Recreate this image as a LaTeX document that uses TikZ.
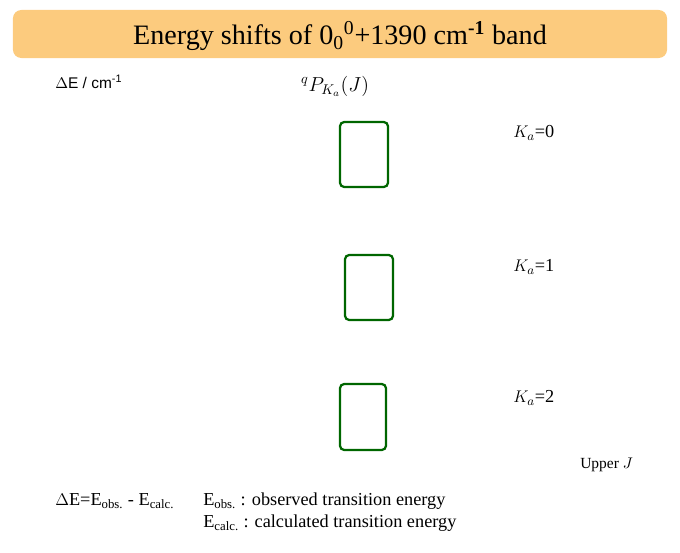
\documentclass[tikz,border=0pt]{standalone}
\usepackage{fontspec}
\setmainfont{Liberation Serif}
\setsansfont{Liberation Sans}
\definecolor{titlebar}{RGB}{252,203,126}
\begin{document}
\begin{tikzpicture}[x=0.025cm,y=-0.025cm]
        \tikzstyle{panel} = [draw=green!40!black, line width=1.6pt, rounded corners=3pt]
        \tikzstyle{lbl} = [anchor=west, inner sep=0pt, font=\fontsize{13}{15}\selectfont]
        \useasboundingbox (0,0) rectangle (680,553);
        \node[fill=titlebar, rounded corners=6pt, minimum width=16.35cm, minimum height=1.2cm] (title) at (340,34) {};
        \node[font=\fontsize{20}{23}\selectfont] (titletext) at (340,36) {Energy shifts of 0\textsubscript{0}\textsuperscript{0}+1390 cm\textsuperscript{\textbf{-1}} band};
        \node[lbl, font=\sffamily\fontsize{11}{13}\selectfont] (axis) at (55,82) {$\Delta$E / cm\textsuperscript{-1}};
        \node[font=\Large] (branch) at (335,86) {$^{q}P_{K_a}\!\left(J\right)$};
        \draw[panel] (340,122) rectangle (388,187);
        \draw[panel] (345,255) rectangle (393,320);
        \draw[panel] (340,384) rectangle (386,450);
        \node[lbl] (k0) at (513,133) {$K_a$=0};
        \node[lbl] (k1) at (513,267) {$K_a$=1};
        \node[lbl] (k2) at (513,398) {$K_a$=2};
        \node[lbl, font=\fontsize{11}{13}\selectfont] (upper) at (580,465) {Upper $J$};
        \node[lbl] (def) at (55,501) {$\Delta$E=E\textsubscript{obs.} - E\textsubscript{calc.}};
        \node[lbl] (obs) at (203,501) {E\textsubscript{obs.} : observed transition energy};
        \node[lbl] (calc) at (203,523) {E\textsubscript{calc.} : calculated transition energy};
\end{tikzpicture}
\end{document}
